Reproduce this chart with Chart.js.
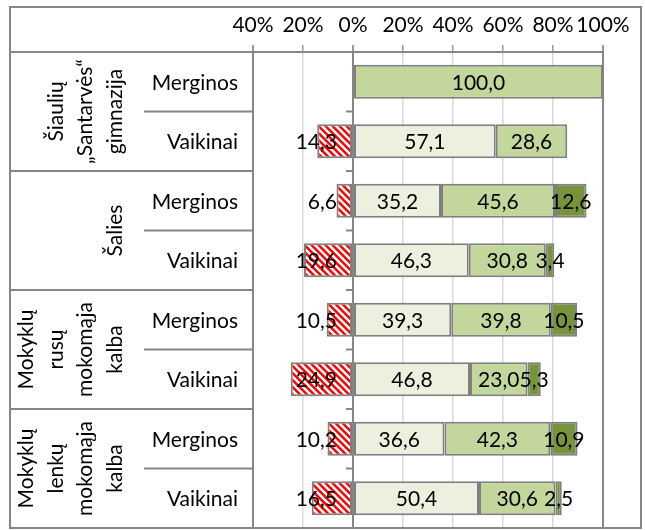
<!DOCTYPE html>
<html>
<head>
<meta charset="utf-8">
<script src="https://cdn.jsdelivr.net/npm/chart.js@4.4.0/dist/chart.umd.min.js"></script>
<style>
  html, body { margin: 0; padding: 0; background: #fff; }
  #wrap { width: 645px; height: 530px; position: relative; }
</style>
</head>
<body>
<div id="wrap"><canvas id="chart"></canvas></div>
<script>
// groups (rotated labels, one entry per line) and rows
const groupLines = [
  ['Šiaulių', '„Santarvės“', 'gimnazija'],
  ['Šalies'],
  ['Mokyklų', 'rusų', 'mokomąja', 'kalba'],
  ['Mokyklų', 'lenkų', 'mokomąja', 'kalba']
];
const rowLabels = ['Merginos', 'Vaikinai', 'Merginos', 'Vaikinai', 'Merginos', 'Vaikinai', 'Merginos', 'Vaikinai'];

// series values (%), negative series drawn left of zero
const negValues = [null, 14.3, 6.6, 19.6, 10.5, 24.9, 10.2, 16.5];
const lightValues = [null, 57.1, 35.2, 46.3, 39.3, 46.8, 36.6, 50.4];
const midValues = [100.0, 28.6, 45.6, 30.8, 39.8, 23.0, 42.3, 30.6];
const darkValues = [null, null, 12.6, 3.4, 10.5, 5.3, 10.9, 2.5];

const xMin = -40, xMax = 100, xStep = 20;

const FONT = 'Lato, "Open Sans", sans-serif';
const FS = 21;
const GRID_DARK = '#868686';
const GRID_LIGHT = '#d9d9d9';

// red / white diagonal stripes
function stripes() {
  const c = document.createElement('canvas');
  c.width = 7; c.height = 7;
  const g = c.getContext('2d');
  g.fillStyle = '#ff0000';
  g.fillRect(0, 0, 7, 7);
  g.strokeStyle = '#ffffff';
  g.lineWidth = 2.5;
  g.beginPath();
  g.moveTo(-2, -2); g.lineTo(9, 9);
  g.moveTo(-9, -2); g.lineTo(2, 9);
  g.moveTo(5, -2); g.lineTo(16, 9);
  g.stroke();
  return g.createPattern(c, 'repeat');
}

const fmt = v => Math.abs(v).toFixed(1).replace('.', ',');

const valueLabels = {
  id: 'valueLabels',
  afterDatasetsDraw(chart) {
    const ctx = chart.ctx;
    const x0 = chart.scales.x.getPixelForValue(0);
    ctx.save();
    ctx.font = FS + 'px ' + FONT;
    ctx.fillStyle = '#000';
    ctx.textBaseline = 'middle';
    chart.data.datasets.forEach((ds, i) => {
      chart.getDatasetMeta(i).data.forEach((bar, j) => {
        const v = ds.data[j];
        if (v == null) return;
        if (v < 0) {
          ctx.textAlign = 'right';
          ctx.fillText(fmt(v), x0 - 16, bar.y + 1);
        } else {
          ctx.textAlign = 'center';
          ctx.fillText(fmt(v), (bar.x + bar.base) / 2, bar.y + 1);
        }
      });
    });
    ctx.restore();
  }
};

const tableFrame = {
  id: 'tableFrame',
  beforeDraw(chart) {
    const ctx = chart.ctx;
    ctx.save();
    ctx.fillStyle = '#fff';
    ctx.fillRect(0, 0, chart.width, chart.height);
    ctx.restore();
  },
  afterDraw(chart) {
    const ctx = chart.ctx;
    const a = chart.chartArea;
    const ys = chart.scales.y;
    const x0 = chart.scales.x.getPixelForValue(0);
    const half = (ys.getPixelForValue(1) - ys.getPixelForValue(0)) / 2;
    const line = (x1, y1, x2, y2) => { ctx.beginPath(); ctx.moveTo(x1, y1); ctx.lineTo(x2, y2); ctx.stroke(); };

    ctx.save();
    ctx.strokeStyle = GRID_DARK;
    ctx.lineWidth = 2;
    ctx.strokeRect(10, 7, 631, 521);
    line(10, a.top, a.left, a.top);

    ctx.font = FS + 'px ' + FONT;
    ctx.fillStyle = '#000';
    ctx.textBaseline = 'middle';
    rowLabels.forEach((lab, j) => {
      const cy = ys.getPixelForValue(j);
      const top = cy - half;
      if (j > 0) {
        line(j % 2 ? 144 : 10, top, a.left, top);
        line(x0 - 7, top, x0, top);
      }
      ctx.textAlign = 'right';
      ctx.fillText(lab, 238, cy + 1);
    });

    groupLines.forEach((lines, g) => {
      const cy = (ys.getPixelForValue(g * 2) + ys.getPixelForValue(g * 2 + 1)) / 2;
      const lh = 29.5;
      ctx.save();
      ctx.translate(115 - (lines.length - 1) * lh, cy);
      ctx.rotate(-Math.PI / 2);
      ctx.textAlign = 'center';
      lines.forEach((t, k) => ctx.fillText(t, 0, k * lh));
      ctx.restore();
    });
    ctx.restore();
  }
};

const isDark = v => v === 0 || v === xMin || v === xMax;

new Chart(document.getElementById('chart'), {
  type: 'bar',
  data: {
    labels: rowLabels,
    datasets: [
      { data: negValues.map(v => v == null ? null : -v), backgroundColor: stripes() },
      { data: lightValues, backgroundColor: '#ebf1de' },
      { data: midValues, backgroundColor: '#c3d69b' },
      { data: darkValues, backgroundColor: '#77933c' }
    ].map(d => Object.assign(d, {
      borderColor: '#808080',
      borderWidth: 2,
      borderSkipped: false,
      barPercentage: 0.57,
      categoryPercentage: 1
    }))
  },
  options: {
    indexAxis: 'y',
    responsive: true,
    maintainAspectRatio: false,
    animation: false,
    layout: { padding: { left: 253, right: 42, top: 0, bottom: 2 } },
    plugins: {
      legend: { display: false },
      tooltip: { enabled: false },
      title: { display: false }
    },
    scales: {
      x: {
        position: 'top',
        stacked: true,
        min: xMin,
        max: xMax,
        afterFit(scale) { scale.height = 52; },
        ticks: {
          stepSize: xStep,
          padding: 7,
          maxRotation: 0,
          minRotation: 0,
          autoSkip: false,
          color: '#000',
          font: { family: FONT, size: FS },
          callback: v => Math.abs(v) + '%'
        },
        grid: {
          color: c => isDark(c.tick.value) ? GRID_DARK : GRID_LIGHT,
          lineWidth: c => isDark(c.tick.value) ? 2 : 1.5,
          tickColor: '#9a9a9a',
          tickLength: 7
        },
        border: { display: true, color: GRID_DARK, width: 2 }
      },
      y: {
        stacked: true,
        display: false
      }
    }
  },
  plugins: [tableFrame, valueLabels]
});
</script>
</body>
</html>
